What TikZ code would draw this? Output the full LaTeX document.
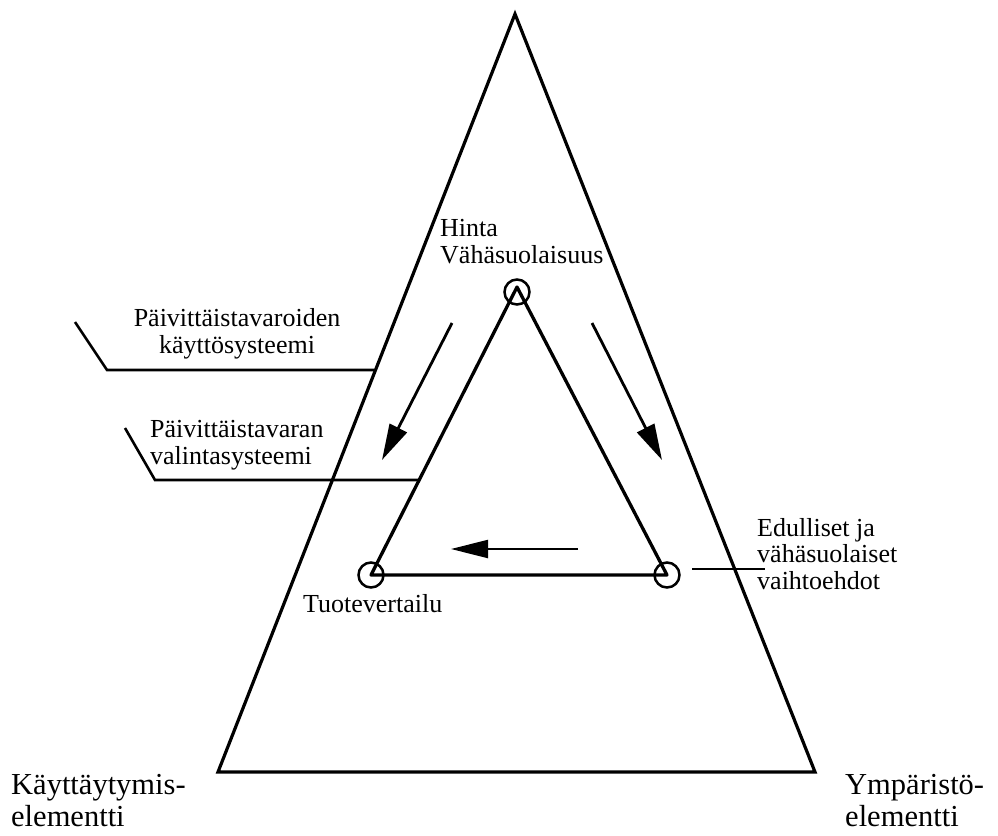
\documentclass[tikz,border=0pt]{standalone}
\usepackage{fontspec}
\setmainfont{Liberation Serif}
\usetikzlibrary{arrows.meta}
\begin{document}
\begin{tikzpicture}[x=1pt,y=-1pt,
  edge/.style={line width=3.2pt, line join=miter},
  inner edge/.style={line width=3.3pt, line join=round},
  flow/.style={line width=2.8pt, -{Triangle[length=36pt,width=19pt]}},
  thin flow/.style={line width=2.2pt, -{Triangle[length=37pt,width=18pt]}},
  leader/.style={line width=2.6pt, line join=miter},
  hub/.style={circle, draw, line width=2.5pt, minimum size=25pt, inner sep=0pt},
  lbl/.style={font=\fontsize{26}{26.5}\selectfont, inner sep=0pt},
  big lbl/.style={font=\fontsize{30.5}{32}\selectfont, inner sep=0pt},
]
\useasboundingbox (0,0) rectangle (998,835);

% outer triangle
\coordinate (top) at (515,14);
\coordinate (bl) at (218,772);
\coordinate (br) at (815,772);
\draw[edge] (top) -- (bl) -- (br) -- cycle;

% inner triangle with its three hubs
\coordinate (itop) at (517,287);
\coordinate (ibl) at (371,575);
\coordinate (ibr) at (667,575);
\node[hub] (h1) at (517,292) {};
\node[hub] (h2) at (371,575) {};
\node[hub] (h3) at (667,575) {};
\draw[inner edge] (itop) -- (ibl) -- (ibr) -- cycle;

% flow arrows
\coordinate (la0) at (452,323);
\coordinate (la1) at (382,460);
\coordinate (ra0) at (592,323);
\coordinate (ra1) at (662,460);
\coordinate (ba0) at (578,549);
\coordinate (ba1) at (451,549);
\draw[flow] (la0) -- (la1);
\draw[flow] (ra0) -- (ra1);
\draw[thin flow] (ba0) -- (ba1);

% leader lines to the labels
\coordinate (l1a) at (75,322);
\coordinate (l1b) at (107,370);
\coordinate (l1c) at (374,370);
\coordinate (l2a) at (125,428);
\coordinate (l2b) at (155,480);
\coordinate (l2c) at (418,480);
\coordinate (l3a) at (692,569);
\coordinate (l3b) at (765,569);
\draw[leader] (l1a) -- (l1b) -- (l1c);
\draw[leader] (l2a) -- (l2b) -- (l2c);
\draw[leader] (l3a) -- (l3b);

% labels (base anchor = baseline of the last line)
\node[lbl, anchor=base west, align=left] (tHinta) at (440,263) {Hinta\\Vähäsuolaisuus};
\node[lbl, anchor=base, align=center] (tKaytto) at (237,353) {Päivittäistavaroiden\\käyttösysteemi};
\node[lbl, anchor=base west, align=left] (tValinta) at (150,464) {Päivittäistavaran\\valintasysteemi};
\node[lbl, anchor=base west, align=left] (tEdull) at (757,589) {Edulliset ja\\vähäsuolaiset\\vaihtoehdot};
\node[lbl, anchor=base west] (tTuote) at (303,612) {Tuotevertailu};
\node[big lbl, anchor=base west, align=left] (tKayt) at (11,826) {Käyttäytymis-\\elementti};
\node[big lbl, anchor=base west, align=left] (tYmp) at (845,826) {Ympäristö-\\elementti};
\end{tikzpicture}
\end{document}
